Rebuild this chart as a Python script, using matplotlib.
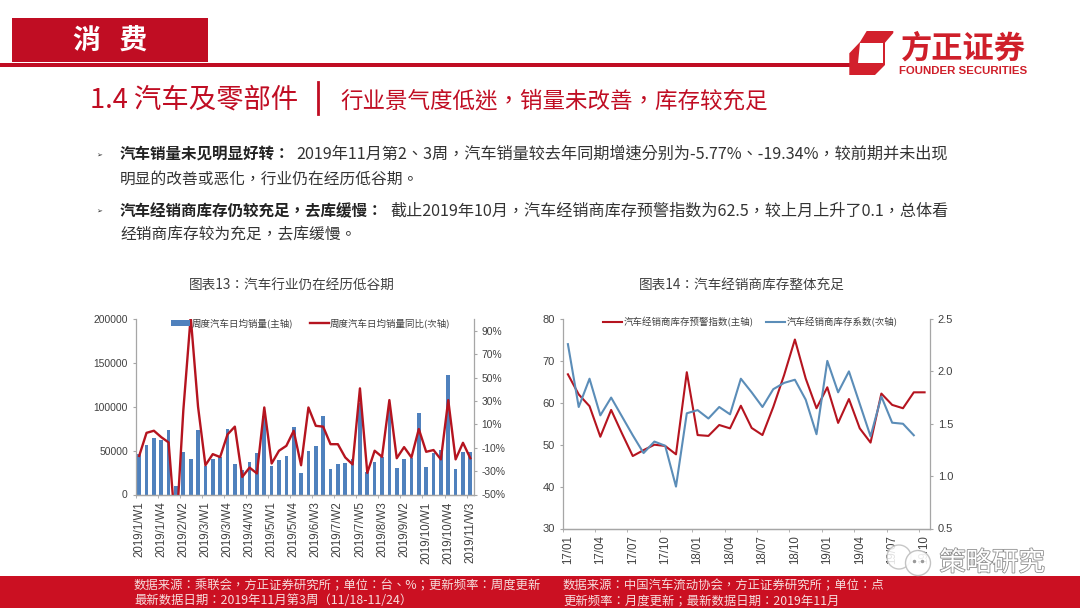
import matplotlib
matplotlib.use('Agg')
import matplotlib.pyplot as plt
import matplotlib.patheffects as pe
from matplotlib.patches import Rectangle, Polygon, Circle
from matplotlib.ticker import FuncFormatter
import numpy as np

# TC cut has the centred full-width punctuation the slide uses
plt.rcParams['font.family'] = ['Noto Sans CJK TC', 'DejaVu Sans']

RED = '#c00d23'
LINE_RED = '#b5141f'
BAR_BLUE = '#4f81bd'
GREY = '#404040'

# chart 1, weekly data
week_labels = ['2019/1/W1', '2019/1/W4', '2019/2/W2', '2019/3/W1', '2019/3/W4', '2019/4/W3',
               '2019/5/W1', '2019/5/W4', '2019/6/W3', '2019/7/W2', '2019/7/W5', '2019/8/W3',
               '2019/9/W2', '2019/10/W1', '2019/10/W4', '2019/11/W3']
weekly_sales = [46000, 56000, 64000, 62000, 74000, 9500, 49000, 40000, 73000, 33000,
                40000, 43000, 75000, 35000, 28000, 37000, 47000, 90000, 33000, 39000,
                44000, 77000, 25000, 50000, 55000, 90000, 28500, 35000, 36000, 41000,
                104000, 26000, 37500, 43000, 96000, 30500, 41000, 42000, 93000, 31500,
                47000, 50500, 136000, 28500, 48000, 48700]
weekly_yoy = [-17, 2.7, 4.5, -1, -5.5, -85, 22, 102, 25, -25,
              -15.5, -18, 1.3, 8, -35, -27, -32, 24.4, -23.5, -12.6,
              -8.4, 4.5, -25, 24.4, 8.7, 8, -7, -7, -18.3, -24.3,
              40.7, -31.5, -12.6, -17.8, 30.7, -19, -9.5, -18.3, 6, -13.5,
              -12, -20, 30.7, -20, -5.8, -19]

# chart 2, monthly data
month_labels = ['17/01', '17/04', '17/07', '17/10', '18/01', '18/04',
                '18/07', '18/10', '19/01', '19/04', '19/07', '19/10']
stock_index = [66.8, 62, 59.2, 51.9, 58.3, 52.7, 47.3, 48.7, 50, 49.7, 47.7, 67.3,
               52.3, 52.1, 54.7, 53.9, 59.3, 54, 52.3, 59, 66.6, 75.1, 65.8, 58.7,
               63.7, 55.2, 60.9, 53.9, 50.5, 62.2, 59.5, 58.7, 62.5, 62.5]
stock_ratio = [2.26, 1.66, 1.93, 1.58, 1.75, 1.57, 1.39, 1.22, 1.33, 1.29, 0.90, 1.60,
               1.63, 1.55, 1.66, 1.59, 1.93, 1.80, 1.66, 1.83, 1.89, 1.92, 1.73, 1.40,
               2.10, 1.80, 2.00, 1.69, 1.38, 1.76, 1.51, 1.50, 1.39, np.nan]

W, H = 1080, 608
fig = plt.figure(figsize=(W / 100, H / 100), dpi=100, facecolor='white')

page = fig.add_axes([0, 0, 1, 1])
page.set_xlim(0, W)
page.set_ylim(H, 0)
page.axis('off')


def px_axes(x0, y0, x1, y1):
    return fig.add_axes([x0 / W, 1 - y1 / H, (x1 - x0) / W, (y1 - y0) / H], facecolor='none')


def style_axes(ax, ax2, n, step, ysize):
    ax.set_xlim(-0.5, n - 0.5)
    ax.spines['top'].set_visible(False)
    ax.spines['right'].set_visible(False)
    ax2.spines['top'].set_visible(False)
    ax2.spines['left'].set_visible(False)
    for a in (ax, ax2):
        for s in a.spines.values():
            s.set_color('#a6a6a6')
            s.set_linewidth(0.9)
        a.tick_params(axis='y', labelsize=ysize, labelcolor=GREY, color='#a6a6a6', length=2.5, pad=3)
    ax.set_xticks(np.arange(0, n, step))
    ax.set_xticks(np.arange(-0.5, n, step), minor=True)
    ax.tick_params(axis='x', which='major', length=0, pad=5, labelsize=8.3, labelcolor=GREY, labelrotation=90)
    ax.tick_params(axis='x', which='minor', length=2.5, color='#a6a6a6')


# header
page.add_patch(Rectangle((12, 18), 196, 44, color=RED, lw=0))
page.text(110, 42, '消   费', color='white', fontsize=20, fontweight='bold', ha='center', va='center')
page.add_patch(Rectangle((0, 63), 850, 4, color=RED, lw=0))
page.add_patch(Polygon([(866.7, 31), (893.3, 31), (893.3, 33), (885, 42.7), (885, 65), (875, 75),
                        (849.3, 75), (849.3, 53.3), (860, 42)], color='#d2202c', lw=0))
page.add_patch(Polygon([(860, 43), (883, 43), (883, 63), (858, 63)], color='white', lw=0))
page.text(963, 49, '方正证券', color='#cf1f2a', fontsize=22.5, fontweight='bold', ha='center', va='center')
page.text(963.5, 71, 'FOUNDER SECURITIES', color='#cf1f2a', fontsize=8.2, fontweight='bold', ha='center', va='center',
          family=['Liberation Sans', 'DejaVu Sans'])

page.text(90, 100, '1.4 汽车及零部件', color=RED, fontsize=19.7, ha='left', va='center')
page.plot([318, 318], [82, 114], color=RED, lw=2)
page.text(340, 101, '行业景气度低迷，销量未改善，库存较充足', color=RED, fontsize=16.2, ha='left', va='center')

# body text
page.text(96, 156, '➢', fontsize=5, color='#222222', ha='left', va='center')
page.text(120, 154, '汽车销量未见明显好转：', fontsize=11.2, fontweight='bold', color='#222222', va='center')
page.text(296, 154, '2019年11月第2、3周，汽车销量较去年同期增速分别为-5.77%、-19.34%，较前期并未出现',
          fontsize=11.65, color='#333333', va='center')
page.text(120, 179, '明显的改善或恶化，行业仍在经历低谷期。', fontsize=11.3, color='#333333', va='center')
page.text(96, 212, '➢', fontsize=5, color='#222222', ha='left', va='center')
page.text(120, 211, '汽车经销商库存仍较充足，去库缓慢：', fontsize=11.2, fontweight='bold', color='#222222', va='center')
page.text(390, 211, '截止2019年10月，汽车经销商库存预警指数为62.5，较上月上升了0.1，总体看',
          fontsize=11.6, color='#333333', va='center')
page.text(120, 235, '经销商库存较为充足，去库缓慢。', fontsize=11.3, color='#333333', va='center')

page.text(292, 286, '图表13：汽车行业仍在经历低谷期', fontsize=9.8, color=GREY, ha='center', va='center')
page.text(742, 286, '图表14：汽车经销商库存整体充足', fontsize=9.8, color=GREY, ha='center', va='center')

# chart 1
ax1 = px_axes(135.5, 319, 474, 494.5)
ax1b = ax1.twinx()
x1 = np.arange(len(weekly_sales))
bars = ax1.bar(x1, weekly_sales, width=0.5, color=BAR_BLUE, label='周度汽车日均销量(主轴)')
line1, = ax1b.plot(x1, weekly_yoy, color=LINE_RED, lw=1.7, label='周度汽车日均销量同比(次轴)')
ax1.set_ylim(0, 200000)
ax1.set_yticks(np.arange(0, 200001, 50000))
ax1b.set_ylim(-50, 100)
ax1b.set_yticks(np.arange(-50, 91, 20))
ax1b.yaxis.set_major_formatter(FuncFormatter(lambda v, p: f'{v:.0f}%'))
style_axes(ax1, ax1b, len(weekly_sales), 3, 7.4)
ax1.set_xticklabels(week_labels)
ax1b.legend([bars, line1], [bars.get_label(), line1.get_label()], loc='upper left', ncol=2, frameon=False,
            bbox_to_anchor=(0.105, 1.005), fontsize=6.8, labelcolor=GREY, handlelength=2.0, handleheight=0.6,
            handletextpad=0.15, columnspacing=1.8, borderpad=0, borderaxespad=0)

# chart 2
ax2 = px_axes(562.5, 319, 930, 528.5)
ax2b = ax2.twinx()
x2 = np.arange(len(stock_index))
line2, = ax2.plot(x2, stock_index, color=LINE_RED, lw=1.5, label='汽车经销商库存预警指数(主轴)')
line3, = ax2b.plot(x2, stock_ratio, color='#5b8db8', lw=1.5, label='汽车经销商库存系数(次轴)')
ax2.set_ylim(30, 80)
ax2.set_yticks(np.arange(30, 81, 10))
ax2b.set_ylim(0.5, 2.5)
ax2b.set_yticks(np.arange(0.5, 2.51, 0.5))
style_axes(ax2, ax2b, len(stock_index), 3, 8)
ax2.set_xticklabels(month_labels)
ax2b.legend([line2, line3], [line2.get_label(), line3.get_label()], loc='upper left', ncol=2, frameon=False,
            bbox_to_anchor=(0.11, 1.01), fontsize=6.8, labelcolor=GREY, handlelength=2.0,
            handletextpad=0.15, columnspacing=1.4, borderpad=0, borderaxespad=0)

for a in (ax1, ax1b, ax2, ax2b):
    for lab in a.get_xticklabels() + a.get_yticklabels():
        lab.set_fontfamily(['Liberation Sans', 'DejaVu Sans'])

# footer and watermark go on top of the charts
top = fig.add_axes([0, 0, 1, 1], facecolor='none', zorder=10)
top.set_xlim(0, W)
top.set_ylim(H, 0)
top.axis('off')
top.add_patch(Rectangle((0, 576), W, 32, color='#cb1022', lw=0))
FOOT = 8.9
top.text(134, 586, '数据来源：乘联会，方正证券研究所；单位：台、%；更新频率：周度更新', color='#f6dcdc', fontsize=FOOT, va='center')
top.text(134, 601, '最新数据日期：2019年11月第3周（11/18-11/24）', color='#f6dcdc', fontsize=FOOT, va='center')
top.text(563, 586, '数据来源：中国汽车流动协会，方正证券研究所；单位：点', color='#f6dcdc', fontsize=FOOT, va='center')
top.text(563, 601, '更新频率：月度更新；最新数据日期：2019年11月', color='#f6dcdc', fontsize=FOOT, va='center')
top.add_patch(Circle((899, 557), 12, fc='white', ec='#bdbdbd', lw=1, alpha=0.85))
top.add_patch(Circle((918, 563), 12.5, fc='white', ec='#bdbdbd', lw=1, alpha=0.9))
top.plot([914, 922], [561, 561], ls='none', marker='o', ms=1.5, color='#9a9a9a')
top.text(992, 563, '策略研究', color='white', fontsize=19, ha='center', va='center',
         path_effects=[pe.withStroke(linewidth=1.2, foreground='#8f8f8f')])

fig.savefig('out.png', dpi=100)
